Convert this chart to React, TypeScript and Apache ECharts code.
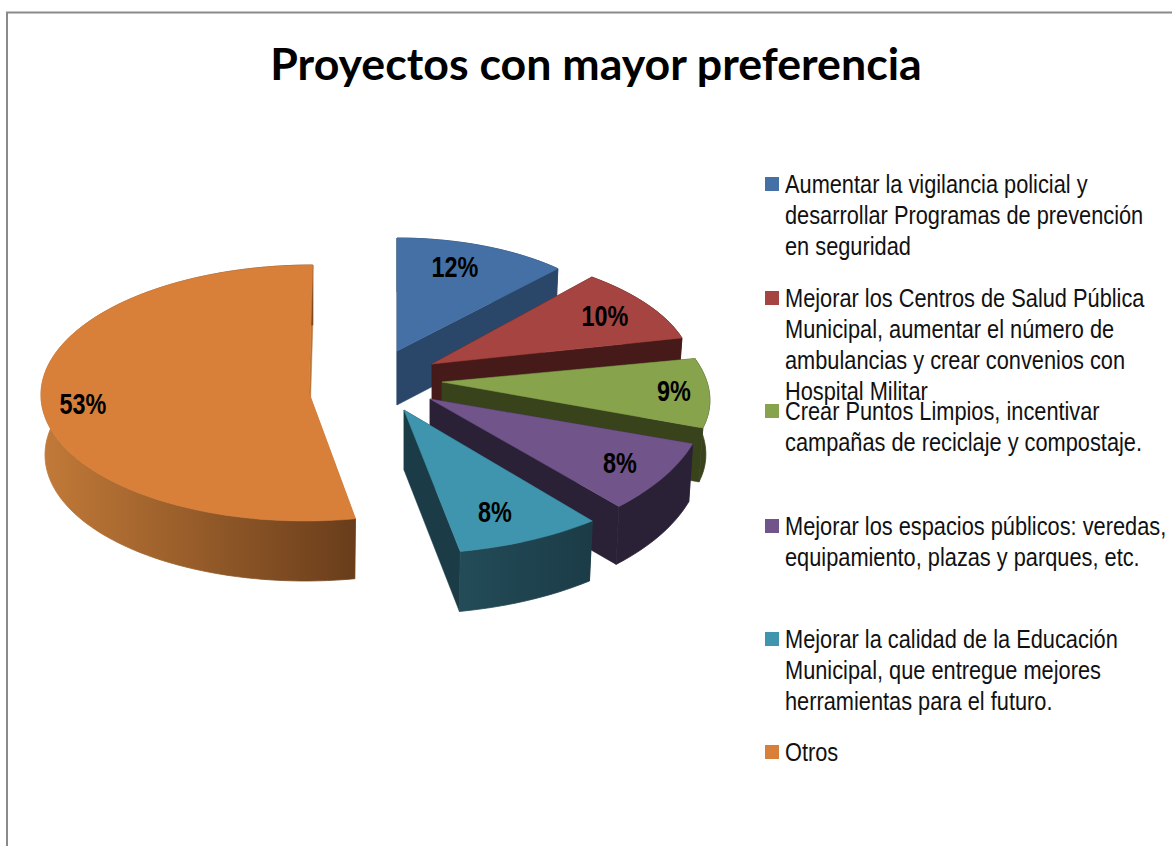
import React, { useEffect, useRef } from "react";
import * as echarts from "echarts";

const TITLE = "Proyectos con mayor preferencia";
const LEGEND_LINES: string[][] = [
  ["Aumentar la vigilancia policial y", "desarrollar Programas de prevención", "en seguridad"],
  ["Mejorar los Centros de Salud Pública", "Municipal, aumentar el número de", "ambulancias y crear convenios con", "Hospital Militar"],
  ["Crear Puntos Limpios, incentivar", "campañas de reciclaje y compostaje."],
  ["Mejorar los espacios públicos: veredas,", "equipamiento, plazas y parques, etc."],
  ["Mejorar la calidad de la Educación", "Municipal, que entregue mejores", "herramientas para el futuro."],
  ["Otros"],
];
const VALUES = [12, 10, 9, 8, 8, 53];

const TOP_COLORS = ["#4470a6", "#a64441", "#87a34b", "#70548a", "#3f95ad", "#d87f3a"];
const WALL_COLORS = ["#2a4769", "#461a18", "#38431c", "#2b2137", "#1b3c47", "#b87535"];
const OUTER_FROM = ["#2a4769", "#461a18", "#38431c", "#2b2137", "#234b58", "#c27a38"];
const OUTER_TO = ["#2a4769", "#461a18", "#38431c", "#2b2137", "#1b3c47", "#693d1b"];

// Perspective layout of each exploded slice: apex, radii, shears, wall depth, label position
const SLICE_LAYOUT = [
  { cx: 397, cy: 351, a: 235, b: 113, k: 0, m: 0, d: 54, lx: 455, ly: 267 },
  { cx: 432, cy: 364, a: 260, b: 115, k: 0.209, m: -4.6, d: 50, lx: 605, ly: 316 },
  { cx: 442, cy: 382, a: 265, b: 125, k: 0.314, m: 0, d: 54, lx: 674, ly: 391 },
  { cx: 430, cy: 399, a: 277, b: 148, k: 0.115, m: -10.4, d: 58, lx: 620, ly: 463 },
  { cx: 404, cy: 410, a: 294, b: 144, k: 0.008, m: 0, d: 60, lx: 495, ly: 512 },
  { cx: 309, cy: 393, a: 268, b: 128, k: -0.03, m: 0, d: 60, lx: 83, ly: 404 },
];
const WALL_SHRINK = 0.985;

const LEGEND_SWATCH_Y = [177, 291, 404, 519, 632, 745];
const NARROW = "'Liberation Sans', sans-serif";

function sliceBuilder(index: number) {
  const total = VALUES.reduce((s, v) => s + v, 0);
  const before = VALUES.slice(0, index).reduce((s, v) => s + v, 0);
  const t1 = (before / total) * Math.PI * 2;
  const t2 = ((before + VALUES[index]) / total) * Math.PI * 2;
  const L = SLICE_LAYOUT[index];
  return () => {
    const pt = (t: number): [number, number] => {
      const dy = -L.b * Math.cos(t) + L.m * Math.sin(t);
      return [L.cx + L.a * Math.sin(t) + L.k * dy, L.cy + dy];
    };
    const low = (p: [number, number]): [number, number] => [
      L.cx + (p[0] - L.cx) * WALL_SHRINK,
      p[1] + L.d,
    ];
    const n = Math.max(8, Math.ceil(((t2 - t1) * 180) / Math.PI / 2));
    const arc: [number, number][] = [];
    for (let i = 0; i <= n; i++) arc.push(pt(t1 + ((t2 - t1) * i) / n));
    const apex: [number, number] = [L.cx, L.cy];
    const apexLow = low(apex);
    const wallStyle = { fill: WALL_COLORS[index], stroke: WALL_COLORS[index], lineWidth: 0.5 };
    const wall = (p: [number, number]) => ({
      type: "polygon",
      shape: { points: [apex, p, low(p), apexLow] },
      style: wallStyle,
    });
    const outerFill = () =>
      new echarts.graphic.LinearGradient(0, 0, 1, 0, [
        { offset: 0, color: OUTER_FROM[index] },
        { offset: 1, color: OUTER_TO[index] },
      ]);
    return {
      type: "group",
      children: [
        wall(arc[0]),
        wall(arc[n]),
        {
          type: "polygon",
          shape: { points: [...arc, ...arc.slice().reverse().map(low)] },
          style: { fill: outerFill(), stroke: outerFill(), lineWidth: 0.8 },
        },
        {
          type: "polygon",
          shape: { points: [apex, ...arc] },
          style: { fill: TOP_COLORS[index], stroke: TOP_COLORS[index], lineWidth: 0.5 },
        },
        {
          type: "text",
          x: L.lx,
          y: L.ly,
          scaleX: 0.78,
          style: {
            text: `${VALUES[index]}%`,
            fill: "#000",
            fontFamily: NARROW,
            fontWeight: "bold",
            fontSize: 30,
            align: "center",
            verticalAlign: "middle",
          },
        },
      ],
    };
  };
}

export default function App() {
  const ref = useRef<HTMLDivElement>(null);
  useEffect(() => {
    const chart = echarts.init(ref.current!, null, { renderer: "svg" });
    chart.setOption({
      animation: false,
      backgroundColor: "#fff",
      title: {
        text: TITLE,
        left: 591,
        top: 35,
        textAlign: "center",
        textStyle: { fontFamily: "Lato, sans-serif", fontWeight: "bold", fontSize: 44.7, color: "#000" },
      },
      series: VALUES.map((v, i) => {
        const build = sliceBuilder(i);
        return {
          type: "custom",
          name: LEGEND_LINES[i].join(" "),
          coordinateSystem: "none",
          silent: true,
          data: [[v]],
          renderItem: () => build(),
        };
      }),
      graphic: [
        { type: "line", shape: { x1: 6, y1: 12.5, x2: 1172, y2: 12.5 }, style: { stroke: "#8a8a8a", lineWidth: 2 } },
        { type: "line", shape: { x1: 7, y1: 12, x2: 7, y2: 846 }, style: { stroke: "#8a8a8a", lineWidth: 2 } },
        ...LEGEND_LINES.flatMap((lines, i) => [
          { type: "rect", shape: { x: 765, y: LEGEND_SWATCH_Y[i], width: 14, height: 14 }, style: { fill: TOP_COLORS[i] } },
          {
            type: "text",
            x: 785,
            y: LEGEND_SWATCH_Y[i] + 7 - 16,
            scaleX: 0.838,
            style: {
              text: lines.join("\n"),
              fill: "#111",
              fontFamily: NARROW,
              fontSize: 26,
              lineHeight: 31,
            },
          },
        ]),
      ],
    });
    return () => chart.dispose();
  }, []);
  return <div ref={ref} style={{ position: "fixed", left: 0, top: 0, width: 1172, height: 846 }} />;
}
